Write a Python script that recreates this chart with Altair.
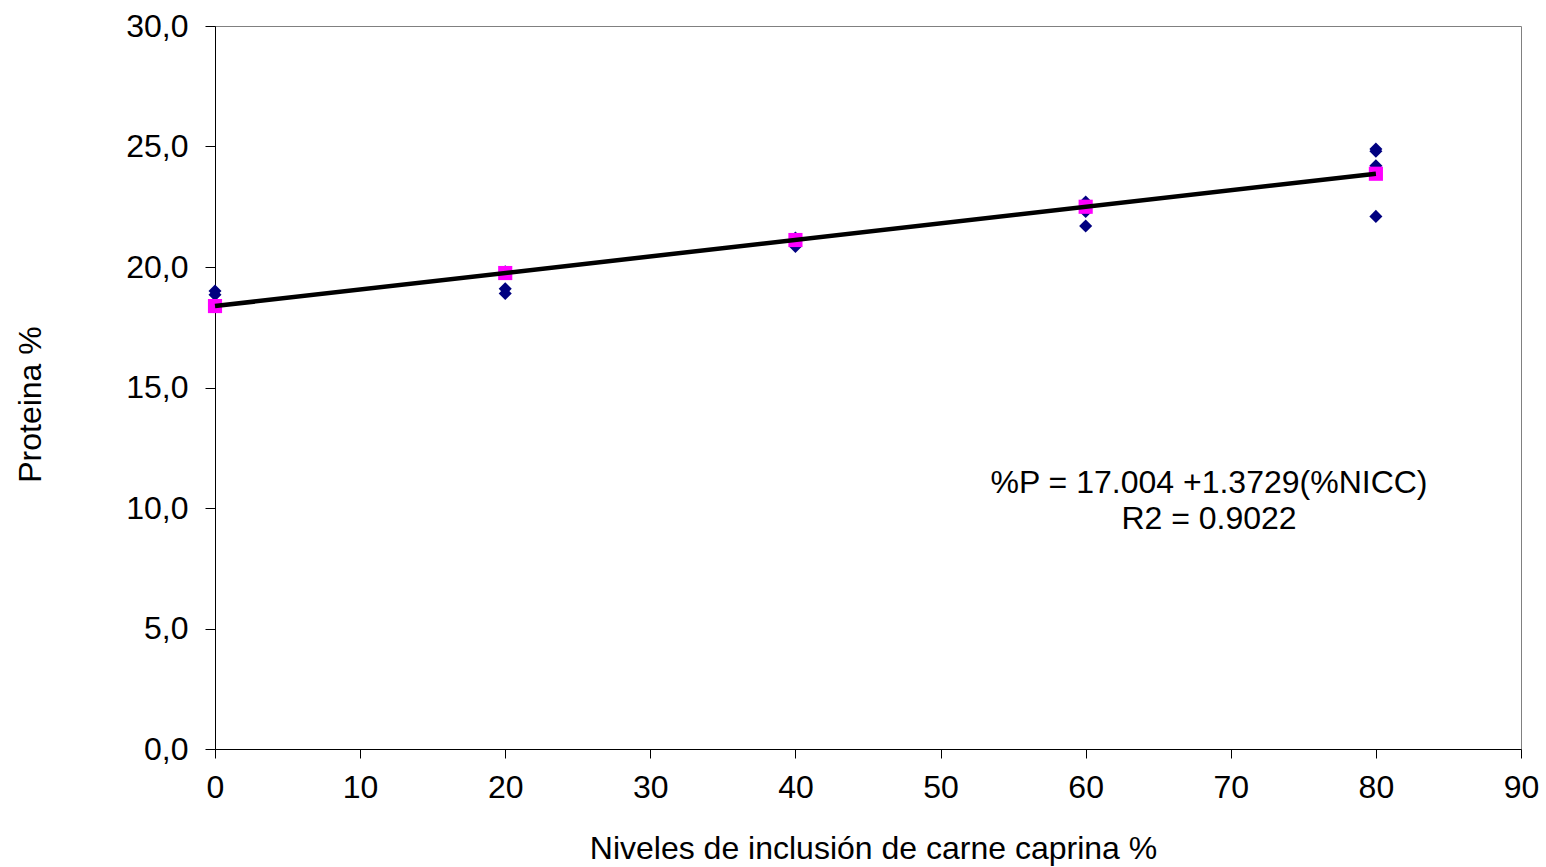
import altair as alt
import pandas as pd

# Observed values (diamonds)
obs_x = [0, 0, 20, 20, 20, 40, 40, 40, 60, 60, 60, 80, 80, 80, 80]
obs_y = [19.0, 18.85, 19.8, 19.1, 18.9, 21.2, 21.0, 20.85, 22.7, 22.3, 21.7, 24.9, 24.8, 24.2, 22.1]

# Predicted values (squares)
pred_x = [0, 20, 40, 60, 80]
pred_y = [18.38, 19.75, 21.12, 22.50, 23.87]

# Regression line ends
line_x = [0, 80]
line_y = [18.38, 23.87]

# Annotation
ann_text = ["%P = 17.004 +1.3729(%NICC)", "R2 = 0.9022"]
ann_x = [68.5, 68.5]
ann_y = [11.05, 9.55]

FONT = "Liberation Sans"
FS = 32

obs = pd.DataFrame({"x": obs_x, "y": obs_y})
pred = pd.DataFrame({"x": pred_x, "y": pred_y})
line = pd.DataFrame({"x": line_x, "y": line_y})
ann = pd.DataFrame({"x": ann_x, "y": ann_y, "t": ann_text})

xscale = alt.Scale(domain=[0, 90], nice=False, zero=False)
yscale = alt.Scale(domain=[0, 30], nice=False, zero=False)

xaxis = alt.Axis(
    title="Niveles de inclusión de carne caprina %",
    values=list(range(0, 91, 10)), grid=False, domainColor="black",
    tickColor="black", tickSize=9, labelPadding=14, labelFontSize=FS,
    labelFont=FONT, labelColor="black", titleFont=FONT, titleFontSize=FS,
    titleFontWeight="normal", titleColor="black", titleX=658, titleY=99,
    titleBaseline="middle", titleAlign="center", labelFlush=False,
    labelOverlap=False,
)
yaxis = alt.Axis(
    title="Proteina %",
    values=[0, 5, 10, 15, 20, 25, 30], grid=False, domainColor="black",
    tickColor="black", tickSize=10, labelPadding=17, labelFontSize=FS,
    labelFont=FONT, labelColor="black", titleFont=FONT, titleFontSize=FS,
    titleFontWeight="normal", titleColor="black", titleX=-185, titleY=378,
    titleBaseline="middle", titleAlign="center", titleAngle=-90,
    labelExpr="replace(format(datum.value, '.1f'), '.', ',')",
    labelFlush=False, labelOverlap=False,
)

diamonds = alt.Chart(obs).mark_point(
    shape="diamond", filled=True, color="#000080", size=170, opacity=1
).encode(
    x=alt.X("x:Q", scale=xscale, axis=xaxis),
    y=alt.Y("y:Q", scale=yscale, axis=yaxis),
)

squares = alt.Chart(pred).mark_point(
    shape="square", filled=True, color="#FF00FF", size=200, opacity=1
).encode(x=alt.X("x:Q", scale=xscale), y=alt.Y("y:Q", scale=yscale))

reg = alt.Chart(line).mark_line(color="black", strokeWidth=4.5).encode(
    x=alt.X("x:Q", scale=xscale), y=alt.Y("y:Q", scale=yscale)
)

text = alt.Chart(ann).mark_text(
    font=FONT, fontSize=FS, color="black", align="center", baseline="middle"
).encode(x=alt.X("x:Q", scale=xscale), y=alt.Y("y:Q", scale=yscale), text="t:N")

chart = alt.layer(diamonds, squares, reg, text).properties(
    width=1306, height=723,
    autosize=alt.AutoSizeParams(type="none"),
    padding={"left": 215, "top": 26, "right": 25, "bottom": 118},
    background="white",
).configure_view(stroke="#808080", strokeWidth=1)

chart.save("out.html", embed_options={"renderer": "svg", "actions": False})
